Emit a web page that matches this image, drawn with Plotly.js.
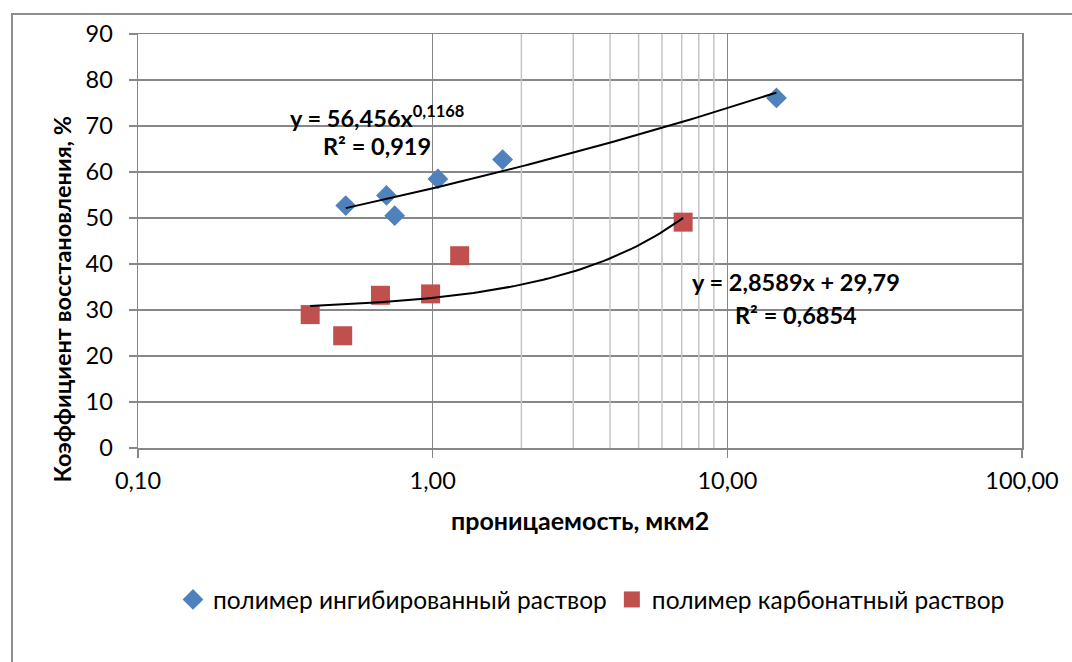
<!DOCTYPE html>
<html>
<head>
<meta charset="utf-8">
<script src="https://cdn.plot.ly/plotly-3.0.1.min.js"></script>
<style>
  html, body { margin: 0; padding: 0; background: #ffffff; overflow: hidden; }
  #wrap { position: relative; width: 1072px; height: 662px; }
  #chart { position: absolute; left: 0; top: 0; width: 1072px; height: 662px; }
  #frame {
    position: absolute; left: 11px; top: 13px; width: 1100px; height: 700px;
    border: 2px solid #8e8e8e; box-sizing: border-box; pointer-events: none;
  }
</style>
</head>
<body>
<div id="wrap">
  <div id="chart"></div>
  <div id="frame"></div>
</div>
<script>
// Проницаемость (мкм2) и коэффициент восстановления (%)
const inhibX = [0.507, 0.697, 0.743, 1.042, 1.727, 14.68];
const inhibY = [52.7, 54.9, 50.5, 58.5, 62.7, 76.1];
const carbX  = [0.384, 0.495, 0.665, 0.984, 1.235, 7.08];
const carbY  = [29.0, 24.4, 33.2, 33.5, 41.8, 49.1];

const seriesNames = ['полимер ингибированный раствор', 'полимер карбонатный раствор'];

// Линии тренда: степенная y = a·x^b и линейная y = k·x + c
const powerCoef  = [56.456, 0.1168];
const linearCoef = [2.8589, 29.79];
const eqPower  = ['y = 56,456x<sup>0,1168</sup>', 'R² = 0,919'];
const eqLinear = ['y = 2,8589x + 29,79', 'R² = 0,6854'];

// Оси
const xTickVals = [0.1, 1, 10, 100];
const xTickText = ['0,10', '1,00', '10,00', '100,00'];
const minorGridVals = [2, 3, 4, 5, 6, 7, 8, 9];

const FONT = 'Lato, "Open Sans", sans-serif';

function trendPoints(x0, x1, f, n) {
  const xs = [], ys = [];
  const l0 = Math.log10(x0), l1 = Math.log10(x1);
  for (let i = 0; i <= n; i++) {
    const x = Math.pow(10, l0 + (l1 - l0) * i / n);
    xs.push(x); ys.push(f(x));
  }
  return {xs, ys};
}

const pw = trendPoints(Math.min(...inhibX), Math.max(...inhibX),
  x => powerCoef[0] * Math.pow(x, powerCoef[1]), 80);
const ln = trendPoints(Math.min(...carbX), Math.max(...carbX),
  x => linearCoef[0] * x + linearCoef[1], 80);

// Дополнительная сетка внутри декады 1–10
const gx = [], gy = [];
minorGridVals.forEach(v => { gx.push(v, v, null); gy.push(0, 90, null); });

const traces = [
  { x: gx, y: gy, type: 'scatter', mode: 'lines',
    line: {color: '#c4c4c4', width: 1.5}, hoverinfo: 'skip', showlegend: false },
  { x: inhibX, y: inhibY, type: 'scatter', mode: 'markers', name: seriesNames[0],
    marker: {symbol: 'diamond', size: 16, color: '#4F81BD'} },
  { x: carbX, y: carbY, type: 'scatter', mode: 'markers', name: seriesNames[1],
    marker: {symbol: 'square', size: 19, color: '#C0504D'} },
  { x: pw.xs, y: pw.ys, type: 'scatter', mode: 'lines',
    line: {color: '#000000', width: 2}, hoverinfo: 'skip', showlegend: false },
  { x: ln.xs, y: ln.ys, type: 'scatter', mode: 'lines',
    line: {color: '#000000', width: 2}, hoverinfo: 'skip', showlegend: false }
];

function boldFont(size) {
  return {family: FONT, size: size, color: '#000000', weight: 'bold'};
}

function eqAnn(text, x, y) {
  return { text: '<b>' + text + '</b>', xref: 'paper', yref: 'paper', x: x, y: y,
    xanchor: 'center', yanchor: 'middle', showarrow: false, font: boldFont(23.5) };
}

const layout = {
  width: 1072, height: 662,
  margin: {l: 138, r: 50, t: 34, b: 214, pad: 0},
  paper_bgcolor: '#ffffff', plot_bgcolor: '#ffffff',
  font: {family: FONT, size: 23, color: '#000000'},
  xaxis: {
    type: 'log', range: [-1, 2],
    tickmode: 'array', tickvals: xTickVals, ticktext: xTickText,
    showgrid: true, gridcolor: '#878787', gridwidth: 1.5,
    showline: true, linecolor: '#878787', linewidth: 1.5, mirror: true,
    ticks: 'outside', ticklen: 8, tickwidth: 1.5, tickcolor: '#878787',
    ticklabelstandoff: 3,
    tickfont: {family: FONT, size: 23.5, color: '#000000'},
    zeroline: false, fixedrange: true
  },
  yaxis: {
    range: [0, 90], dtick: 10, tick0: 0,
    showgrid: true, gridcolor: '#878787', gridwidth: 1.5,
    showline: true, linecolor: '#878787', linewidth: 1.5, mirror: true,
    ticks: 'outside', ticklen: 8, tickwidth: 1.5, tickcolor: '#878787',
    ticklabelstandoff: 11,
    tickfont: {family: FONT, size: 23.5, color: '#000000'},
    zeroline: false, fixedrange: true
  },
  showlegend: true,
  legend: {
    orientation: 'h', x: 0.513, xanchor: 'center', y: -0.366, yanchor: 'middle',
    font: {family: FONT, size: 24.5, color: '#000000'},
    bgcolor: 'rgba(0,0,0,0)', itemwidth: 30, traceorder: 'normal'
  },
  annotations: [
    eqAnn(eqPower[0], 0.2704, 0.800),
    eqAnn(eqPower[1], 0.2704, 0.729),
    eqAnn(eqLinear[0], 0.7443, 0.400),
    eqAnn(eqLinear[1], 0.7443, 0.322),
    { text: '<b>проницаемость, мкм2</b>', xref: 'paper', yref: 'paper',
      x: 0.5, y: -0.173, xanchor: 'center', yanchor: 'middle', showarrow: false,
      font: boldFont(25) },
    { text: '<b>Коэффициент восстановления, %</b>', xref: 'paper', yref: 'paper',
      x: -0.0860, y: 0.361, xanchor: 'center', yanchor: 'middle', textangle: -90,
      showarrow: false, font: boldFont(23.5) }
  ]
};

Plotly.newPlot('chart', traces, layout, {displayModeBar: false, staticPlot: true});
</script>
</body>
</html>
